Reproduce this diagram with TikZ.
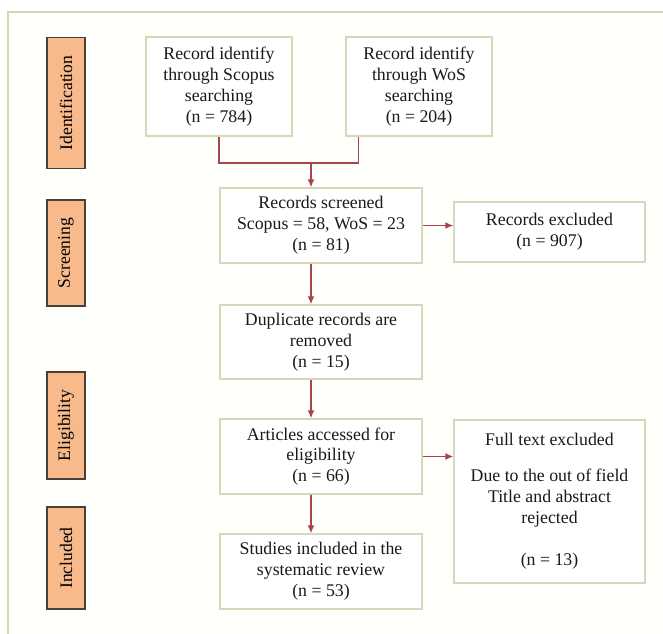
\documentclass[tikz,border=0pt]{standalone}
\usepackage{fontspec}
\setmainfont{Liberation Serif}
\usetikzlibrary{arrows.meta}
\definecolor{framecol}{HTML}{D3D6AE}
\definecolor{paper}{HTML}{FFFFFB}
\definecolor{stagefill}{HTML}{F8B98B}
\definecolor{stageline}{HTML}{4A4038}
\definecolor{boxline}{HTML}{D6D8B8}
\definecolor{linkcol}{HTML}{A8444C}
\tikzset{
  stage/.style={draw=stageline, line width=1.4pt, fill=stagefill, rotate=90,
    minimum height=38pt, inner sep=0pt, font=\fontsize{17.6}{20}\selectfont},
  recbox/.style={draw=boxline, line width=1.5pt, fill=white, align=center,
    inner sep=0pt, font=\fontsize{17.8}{20.8}\selectfont, text=black!90},
  link/.style={draw=linkcol, line width=1.3pt},
  flow/.style={link, ->},
}
\begin{document}
\begin{tikzpicture}[x=1pt, y=-1pt, >={Latex[length=8pt,width=7pt]}]
\clip (0,0) rectangle (663,633);
\draw[framecol, line width=2.5pt, fill=paper] (8,12) rectangle (690,660);
% stages
\node[stage, minimum width=131pt] (idn) at (66,103)   {Identification};
\node[stage, minimum width=106pt] (scr) at (66,253)   {Screening};
\node[stage, minimum width=107pt] (elg) at (66,425.5) {Eligibility};
\node[stage, minimum width=102pt] (inc) at (66,558)   {Included};
% records
\node[recbox, minimum width=146pt, minimum height=99pt] (scopus) at (219,86.5)
  {Record identify\\through Scopus\\searching\\(n = 784)};
\node[recbox, minimum width=146pt, minimum height=99pt] (wos) at (419,86.5)
  {Record identify\\through WoS\\searching\\(n = 204)};
\node[recbox, minimum width=202pt, minimum height=75pt] (screened) at (321,225.5)
  {Records screened\\Scopus = 58, WoS = 23\\(n = 81)};
\node[recbox, minimum width=191pt, minimum height=60pt] (excl) at (549.5,232)
  {Records excluded\\(n = 907)};
\node[recbox, minimum width=202pt, minimum height=74pt] (dupl) at (321,342)
  {Duplicate records are\\removed\\(n = 15)};
\node[recbox, minimum width=202pt, minimum height=75pt] (artc) at (321,456.5)
  {Articles accessed for\\eligibility\\(n = 66)};
\node[recbox, minimum width=191pt, minimum height=163pt] (full) at (549.5,501.5)
  {Full text excluded\\[15pt]Due to the out of field\\Title and abstract\\rejected\\[22pt](n = 13)};
\node[recbox, minimum width=202pt, minimum height=75pt] (stud) at (321,571.5)
  {Studies included in the\\systematic review\\(n = 53)};
% connectors
\coordinate (join) at (311,163);
\draw[link] (scopus.south) |- (join) -| ([xshift=13pt]wos.south west);
\draw[flow] (join) -- (join |- screened.north);
\draw[flow] (screened.east) -- (excl.west |- screened.east);
\draw[flow] (join |- screened.south) -- (join |- dupl.north);
\draw[flow] (join |- dupl.south) -- (join |- artc.north);
\draw[flow] (artc.east) -- (full.west |- artc.east);
\draw[flow] (join |- artc.south) -- (join |- stud.north);
\end{tikzpicture}
\end{document}
